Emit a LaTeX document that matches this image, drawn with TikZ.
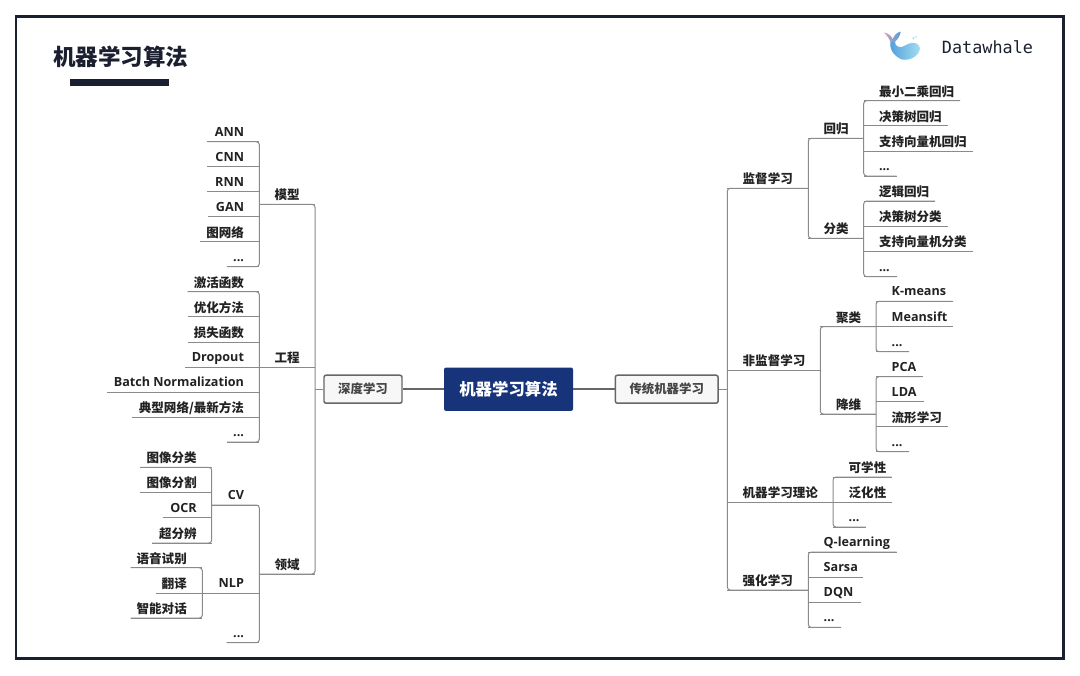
\documentclass[tikz,border=0pt]{standalone}
\usepackage{fontspec}
\setmainfont{Noto Sans CJK SC}
\newfontfamily\latf{Open Sans}[BoldFont={Open Sans Bold}]
\newfontfamily\monof{DejaVu Sans Mono}
\usetikzlibrary{calc}
\definecolor{framec}{HTML}{1A2030}
\definecolor{linec}{HTML}{8A8A8A}
\definecolor{linkc}{HTML}{666666}
\definecolor{navy}{HTML}{17347A}
\definecolor{textc}{HTML}{222222}
\definecolor{subc}{HTML}{444444}
\definecolor{whaleA}{HTML}{4F9FDC}
\definecolor{whaleB}{HTML}{A5DDF0}
\definecolor{pinkc}{HTML}{D9A0B0}
\tikzset{
  x=0.75pt,y=-0.75pt,
  lbl/.style={inner sep=0pt,outer sep=0pt,anchor=south west,text=textc,font=\fontsize{9.4}{11}\selectfont\bfseries},
  conn/.style={draw=linec,line width=0.75pt},
  bracket/.style={conn,rounded corners=2.2pt},
  mainbox/.style={rectangle,rounded corners=1.5pt,inner sep=0pt,fill=navy,text=white,font=\fontsize{12.3}{14}\selectfont\bfseries},
  subbox/.style={rectangle,rounded corners=1.5pt,inner sep=0pt,fill=black!3,draw=linkc,line width=1.1pt,text=subc,font=\fontsize{9.3}{11}\selectfont\bfseries},
  link/.style={draw=linkc,line width=1.1pt},
  titletext/.style={inner sep=0pt,text=framec,font=\fontsize{16.9}{20}\selectfont\bfseries},
  logotext/.style={inner sep=0pt,text=framec,font=\monof\fontsize{12.6}{15}\selectfont},
}
% left tree label: text right-aligned, #5 px before the line's right end
\newcommand\LL[6]{%
  \pgfmathsetlengthmacro\lblw{(#3-#2)*0.75pt}\pgfmathsetlengthmacro\lblp{(#5)*0.75pt}%
  \node[lbl] (#1) at (#2,#4) {\makebox[\lblw][r]{\rule[-3.5pt]{0pt}{14pt}#6\hspace*{\lblp}}};
  \draw[conn] (#1.south west) -- (#1.south east);}
% right tree label: text left-aligned, #5 px after the line's left end
\newcommand\RL[6]{%
  \pgfmathsetlengthmacro\lblw{(#3-#2)*0.75pt}\pgfmathsetlengthmacro\lblp{(#5)*0.75pt}%
  \node[lbl] (#1) at (#2,#4) {\makebox[\lblw][l]{\rule[-3.5pt]{0pt}{14pt}\hspace*{\lblp}#6}};
  \draw[conn] (#1.south west) -- (#1.south east);}
\newcommand\lat[1]{\raisebox{0.6pt}{\latf\fontsize{9.45}{11}\selectfont\bfseries #1}}
\begin{document}
\begin{tikzpicture}
\useasboundingbox[fill=white] (0,0) rectangle (1080,675);
% frame
\draw[framec,line width=2.1pt] (16,16.5) rectangle (1063.5,658.5);
\node[titletext] (title) at (120.8,56.5) {机器学习算法};
\fill[framec] (70,79) rectangle (168.7,86);
\node[logotext,anchor=west] (logo) at (941.7,46.7) {Datawhale};
% whale
\shade[left color=whaleA,right color=whaleB,draw=none]
  (890.5,41) .. controls (889,48) and (893,56) .. (902,59.5)
  .. controls (910,61) and (919,56) .. (920,48.5)
  .. controls (919.5,44) and (915,42) .. (911,43)
  .. controls (906,44) and (903,48) .. (899,47)
  .. controls (895.5,46) and (894.5,43) .. (895,40) -- cycle;
\shade[left color=pinkc,right color=whaleA,draw=none]
  (884,32.5) .. controls (887,33) and (891,35) .. (892.8,39)
  .. controls (894,35) and (897,32.5) .. (900.8,31.5)
  .. controls (900,36) and (897.5,40) .. (895,41.5)
  -- (890.5,42) .. controls (889,38) and (886.5,35) .. (884,32.5) -- cycle;
\fill[whaleB] (913.5,38.2) circle (1.1) (916,37) circle (0.8);

% centre
\node[mainbox,minimum width=96.75pt,minimum height=32.5pt] (root) at (508.5,389.2) {机器学习算法};
\node[subbox,minimum width=58.5pt,minimum height=21pt] (deep) at (363,389.2) {深度学习};
\node[subbox,minimum width=77pt,minimum height=21pt] (trad) at (666.7,389.2) {传统机器学习};
\draw[link] (root.west) -- (deep.east);
\draw[link] (root.east) -- (trad.west);

% ---- left: model
\LL{ann}{207}{259.3}{141.7}{15.3}{\lat{ANN}}
\LL{cnn}{207}{259.3}{166.7}{15.3}{\lat{CNN}}
\LL{rnn}{207}{259.3}{191.7}{15.3}{\lat{RNN}}
\LL{gan}{208}{259.3}{216.7}{15.3}{\lat{GAN}}
\LL{gnn}{200}{259.3}{241.7}{15.3}{图网络}
\LL{mdots}{227}{259.3}{266.7}{15.3}{\lat{...}}
\draw[bracket] (ann.south west) -- (ann.south east) -- (mdots.south east) -- (mdots.south west);
\LL{model}{259.3}{315}{204.3}{15.4}{模型}
% ---- left: engineering
\LL{act}{187.7}{259.3}{291.7}{15.3}{激活函数}
\LL{opt}{187.7}{259.3}{316.7}{15.3}{优化方法}
\LL{loss}{187.7}{259.3}{342}{15.3}{损失函数}
\LL{drop}{185}{259.3}{367}{15.3}{\lat{Dropout}}
\LL{bn}{107}{259.3}{392}{15.3}{\lat{Batch Normalization}}
\LL{typ}{132}{259.3}{417}{15.3}{典型网络/最新方法}
\LL{edots}{227}{259.3}{442}{15.3}{\lat{...}}
\draw[bracket] (act.south west) -- (act.south east) -- (edots.south east) -- (edots.south west);
\LL{eng}{259.3}{315}{367}{15.4}{工程}
% ---- left: domain
\LL{ic}{140}{211.7}{467.3}{15}{图像分类}
\LL{seg}{140}{211.7}{492.5}{15}{图像分割}
\LL{ocr}{162.7}{211.7}{517.5}{15}{\lat{OCR}}
\LL{sr}{152}{211.7}{543}{15}{超分辨}
\draw[bracket] (ic.south west) -- (ic.south east) -- (sr.south east) -- (sr.south west);
\LL{cv}{211.7}{259.3}{505}{15.3}{\lat{CV}}
\LL{asr}{130.7}{202.3}{567.7}{15.5}{语音试别}
\LL{tr}{156}{202.3}{593}{15.5}{翻译}
\LL{chat}{130.7}{202.3}{618}{15.5}{智能对话}
\draw[bracket] (asr.south west) -- (asr.south east) -- (chat.south east) -- (chat.south west);
\LL{nlp}{202.3}{259.3}{593.3}{15.3}{\lat{NLP}}
\LL{ddots}{226.7}{259.3}{642.7}{15.3}{\lat{...}}
\draw[bracket] (cv.south west) -- (cv.south east) -- (ddots.south east) -- (ddots.south west);
\LL{dom}{259.3}{315}{574}{15.4}{领域}
\draw[bracket] (model.south west) -- (model.south east) -- (dom.south east) -- (dom.south west);
\draw[conn] (deep.west) -- (deep.west -| model.south east);

% ---- right: supervised
\RL{sup}{727.3}{808.3}{188.3}{15.4}{监督学习}
\RL{reg}{808.3}{863.7}{138.3}{15.4}{回归}
\RL{ols}{863.7}{960}{100.7}{15.3}{最小二乘回归}
\RL{dtr}{863.7}{948}{125.7}{15.3}{决策树回归}
\RL{svr}{863.7}{972.7}{151}{15.3}{支持向量机回归}
\RL{rdots}{863.7}{896.7}{176}{15.3}{\lat{...}}
\draw[bracket] (ols.south east) -- (ols.south west) -- (rdots.south west) -- (rdots.south east);
\RL{cls}{808.3}{863.7}{238.3}{15.4}{分类}
\RL{lgr}{863.7}{935}{201}{15.3}{逻辑回归}
\RL{dtc}{863.7}{948}{226}{15.3}{决策树分类}
\RL{svc}{863.7}{973}{251.3}{15.3}{支持向量机分类}
\RL{cdots}{863.7}{897}{276.7}{15.3}{\lat{...}}
\draw[bracket] (lgr.south east) -- (lgr.south west) -- (cdots.south west) -- (cdots.south east);
\draw[bracket] (reg.south east) -- (reg.south west) -- (cls.south west) -- (cls.south east);
% ---- right: unsupervised
\RL{uns}{727.3}{820.3}{370.3}{15.4}{非监督学习}
\RL{clu}{820.3}{876}{326.7}{15.7}{聚类}
\RL{km}{876}{952.7}{301.3}{15.7}{\lat{K-means}}
\RL{ms}{876}{953}{326.7}{15.7}{\lat{Meansift}}
\RL{kdots}{876}{909}{351.7}{15.7}{\lat{...}}
\draw[bracket] (km.south east) -- (km.south west) -- (kdots.south west) -- (kdots.south east);
\RL{dim}{820.3}{876}{414}{15.7}{降维}
\RL{pca}{876}{922.7}{376.7}{15.7}{\lat{PCA}}
\RL{lda}{876}{923.7}{401.7}{15.7}{\lat{LDA}}
\RL{mfl}{876}{948}{426.7}{15.7}{流形学习}
\RL{pdots}{876}{909}{451.7}{15.7}{\lat{...}}
\draw[bracket] (pca.south east) -- (pca.south west) -- (pdots.south west) -- (pdots.south east);
\draw[bracket] (clu.south east) -- (clu.south west) -- (dim.south west) -- (dim.south east);
% ---- right: theory
\RL{the}{727.3}{833}{502}{15.4}{机器学习理论}
\RL{lea}{833}{891.7}{477}{15.7}{可学性}
\RL{gen}{833}{892}{502}{15.7}{泛化性}
\RL{tdots}{833}{865.7}{527}{15.7}{\lat{...}}
\draw[bracket] (lea.south east) -- (lea.south west) -- (tdots.south west) -- (tdots.south east);
% ---- right: reinforcement
\RL{rl}{727.3}{808.3}{590}{15.4}{强化学习}
\RL{ql}{808.3}{896.7}{552}{15.4}{\lat{Q-learning}}
\RL{sar}{808.3}{862.7}{577.3}{15.4}{\lat{Sarsa}}
\RL{dqn}{808.3}{860.7}{602.3}{15.4}{\lat{DQN}}
\RL{qdots}{808.3}{841}{627.3}{15.4}{\lat{...}}
\draw[bracket] (ql.south east) -- (ql.south west) -- (qdots.south west) -- (qdots.south east);
\draw[bracket] (sup.south east) -- (sup.south west) -- (rl.south west) -- (rl.south east);
\draw[conn] (trad.east) -- (trad.east -| sup.south west);
\end{tikzpicture}
\end{document}
